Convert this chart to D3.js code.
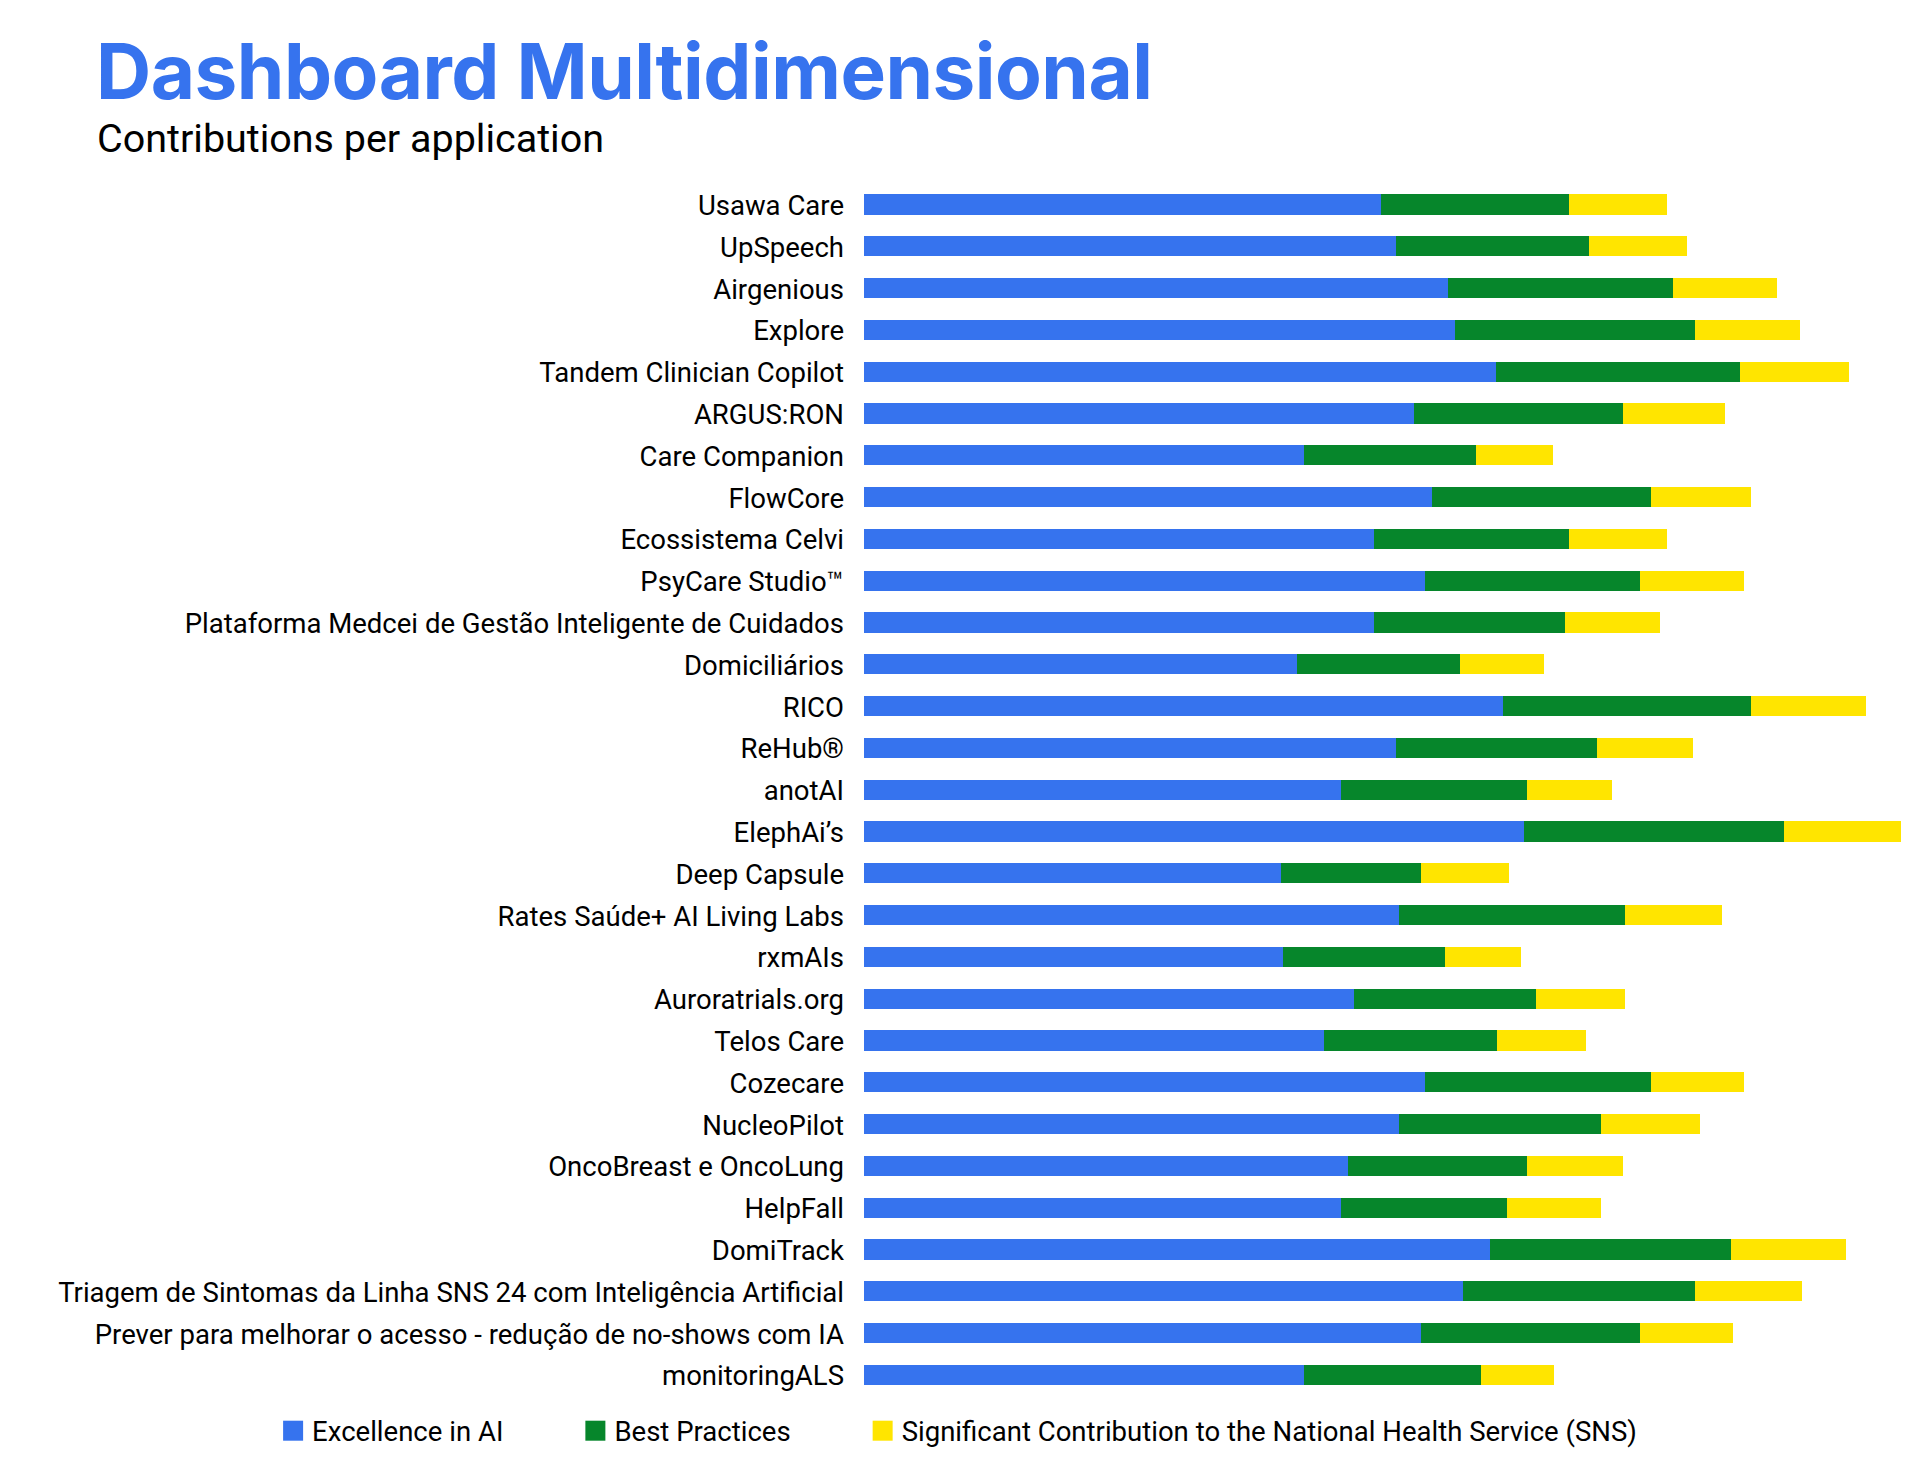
<!DOCTYPE html>
<html>
<head>
<meta charset="utf-8">
<script src="https://cdn.jsdelivr.net/npm/d3@7"></script>
<style>
  html, body { margin: 0; padding: 0; background: #ffffff; }
  svg { display: block; }
</style>
</head>
<body>
<div id="chart"></div>
<script>
// ---- DATA ----
const categories = [
  "Usawa Care", "UpSpeech", "Airgenious", "Explore", "Tandem Clinician Copilot",
  "ARGUS:RON", "Care Companion", "FlowCore", "Ecossistema Celvi", "PsyCare Studio™",
  "Plataforma Medcei de Gestão Inteligente de Cuidados", "Domiciliários", "RICO", "ReHub®", "anotAI",
  "ElephAi’s", "Deep Capsule", "Rates Saúde+ AI Living Labs", "rxmAIs", "Auroratrials.org",
  "Telos Care", "Cozecare", "NucleoPilot", "OncoBreast e OncoLung", "HelpFall",
  "DomiTrack", "Triagem de Sintomas da Linha SNS 24 com Inteligência Artificial",
  "Prever para melhorar o acesso - redução de no-shows com IA", "monitoringALS"
];
const excellenceAI = [75.0, 77.1, 84.6, 85.6, 91.6, 79.7, 63.7, 82.3, 73.9, 81.3,
  73.9, 62.8, 92.6, 77.1, 69.2, 95.7, 60.4, 77.5, 60.8, 71.0,
  66.6, 81.3, 77.5, 70.1, 69.2, 90.7, 86.8, 80.7, 63.7];
const bestPractices = [27.2, 28.0, 32.7, 34.9, 35.4, 30.3, 25.0, 31.7, 28.3, 31.2,
  27.7, 23.6, 35.9, 29.2, 26.9, 37.7, 20.3, 32.8, 23.4, 26.4,
  25.1, 32.7, 29.3, 26.0, 24.0, 34.9, 33.7, 31.7, 25.7];
const contributionSNS = [14.2, 14.2, 15.1, 15.1, 15.8, 14.8, 11.2, 14.5, 14.2, 15.1,
  13.7, 12.2, 16.7, 13.8, 12.3, 16.9, 12.8, 14.0, 11.0, 12.9,
  13.0, 13.6, 14.4, 13.9, 13.6, 16.7, 15.5, 13.6, 10.6];
const seriesNames = [
  "Excellence in AI", "Best Practices",
  "Significant Contribution to the National Health Service (SNS)"
];
const seriesColors = ["#3673EE", "#06862B", "#FFE500"];
const titleText = "Dashboard Multidimensional";
const subtitleText = "Contributions per application";

// ---- LAYOUT ----
const W = 1920, H = 1484;
const plot = { left: 864, right: 1901, top: 183.6, bottom: 1395.8 };
const FONT = "Roboto, 'Liberation Sans', Arial, sans-serif";
const TITLE_FONT = "Inter, Roboto, sans-serif";

const svg = d3.select("#chart").append("svg")
  .attr("width", W).attr("height", H)
  .attr("viewBox", `0 0 ${W} ${H}`);

function fitText(sel, targetWidth) {
  const node = sel.node();
  const fs = parseFloat(sel.attr("font-size"));
  const w = node.getComputedTextLength();
  if (w > 0) sel.attr("font-size", (fs * targetWidth / w).toFixed(2));
  return sel;
}

// Title
const title = svg.append("text")
  .attr("x", 96).attr("y", 99)
  .attr("font-family", TITLE_FONT).attr("font-weight", 700)
  .attr("font-size", 73).attr("fill", "#3673EE")
  .attr("letter-spacing", -0.5)
  .text(titleText);
fitText(title, 1056);

const subtitle = svg.append("text")
  .attr("x", 97).attr("y", 152)
  .attr("font-family", FONT).attr("font-weight", 400)
  .attr("font-size", 33).attr("fill", "#000")
  .text(subtitleText);
fitText(subtitle, 507);

// Data table for stacking
const keys = ["ai", "bp", "sns"];
const rows = categories.map((c, i) => ({
  name: c, ai: excellenceAI[i], bp: bestPractices[i], sns: contributionSNS[i]
}));
const stacked = d3.stack().keys(keys)(rows);

const x = d3.scaleLinear()
  .domain([0, d3.max(rows, d => d.ai + d.bp + d.sns)])
  .range([plot.left, plot.right]);

const y = d3.scaleBand()
  .domain(categories)
  .range([plot.top, plot.bottom])
  .paddingInner(0.5215)
  .paddingOuter(0.26075);

svg.append("g").selectAll("g")
  .data(stacked)
  .join("g")
  .attr("fill", (d, i) => seriesColors[i])
  .selectAll("rect")
  .data(d => d)
  .join("rect")
  .attr("x", d => x(d[0]))
  .attr("y", d => y(d.data.name))
  .attr("width", d => x(d[1]) - x(d[0]))
  .attr("height", y.bandwidth())
  .attr("shape-rendering", "crispEdges");

// Category labels (y axis without line/ticks)
const yAxis = svg.append("g")
  .attr("transform", `translate(${plot.left},0)`)
  .call(d3.axisLeft(y).tickSize(0).tickPadding(20));
yAxis.select(".domain").remove();
yAxis.selectAll("text")
  .attr("font-family", FONT)
  .attr("font-size", 25)
  .attr("fill", "#000")
  .attr("dy", "0.38em");

// fit label font so that the longest label spans ~786px
let maxW = 0;
yAxis.selectAll("text").each(function () { maxW = Math.max(maxW, this.getComputedTextLength()); });
const labelFS = 25 * 786 / maxW;
yAxis.selectAll("text").attr("font-size", labelFS.toFixed(2));

// Legend, centred at page centre
const legendY = 1430.7;
const legend = svg.append("g");
const items = legend.selectAll("g")
  .data(seriesNames)
  .join("g");
items.append("rect")
  .attr("width", 20).attr("height", 20)
  .attr("y", legendY - 10)
  .attr("fill", (d, i) => seriesColors[i]);
items.append("text")
  .attr("x", 29).attr("y", legendY)
  .attr("dy", "0.36em")
  .attr("font-family", FONT).attr("font-size", labelFS.toFixed(2))
  .attr("fill", "#000")
  .text(d => d);
const widths = [];
items.each(function () { widths.push(29 + d3.select(this).select("text").node().getComputedTextLength()); });
const gap = 82;
const totalW = d3.sum(widths) + gap * (widths.length - 1);
let cx = 960 - totalW / 2;
items.each(function (d, i) {
  d3.select(this).attr("transform", `translate(${cx},0)`);
  cx += widths[i] + gap;
});
</script>
</body>
</html>
